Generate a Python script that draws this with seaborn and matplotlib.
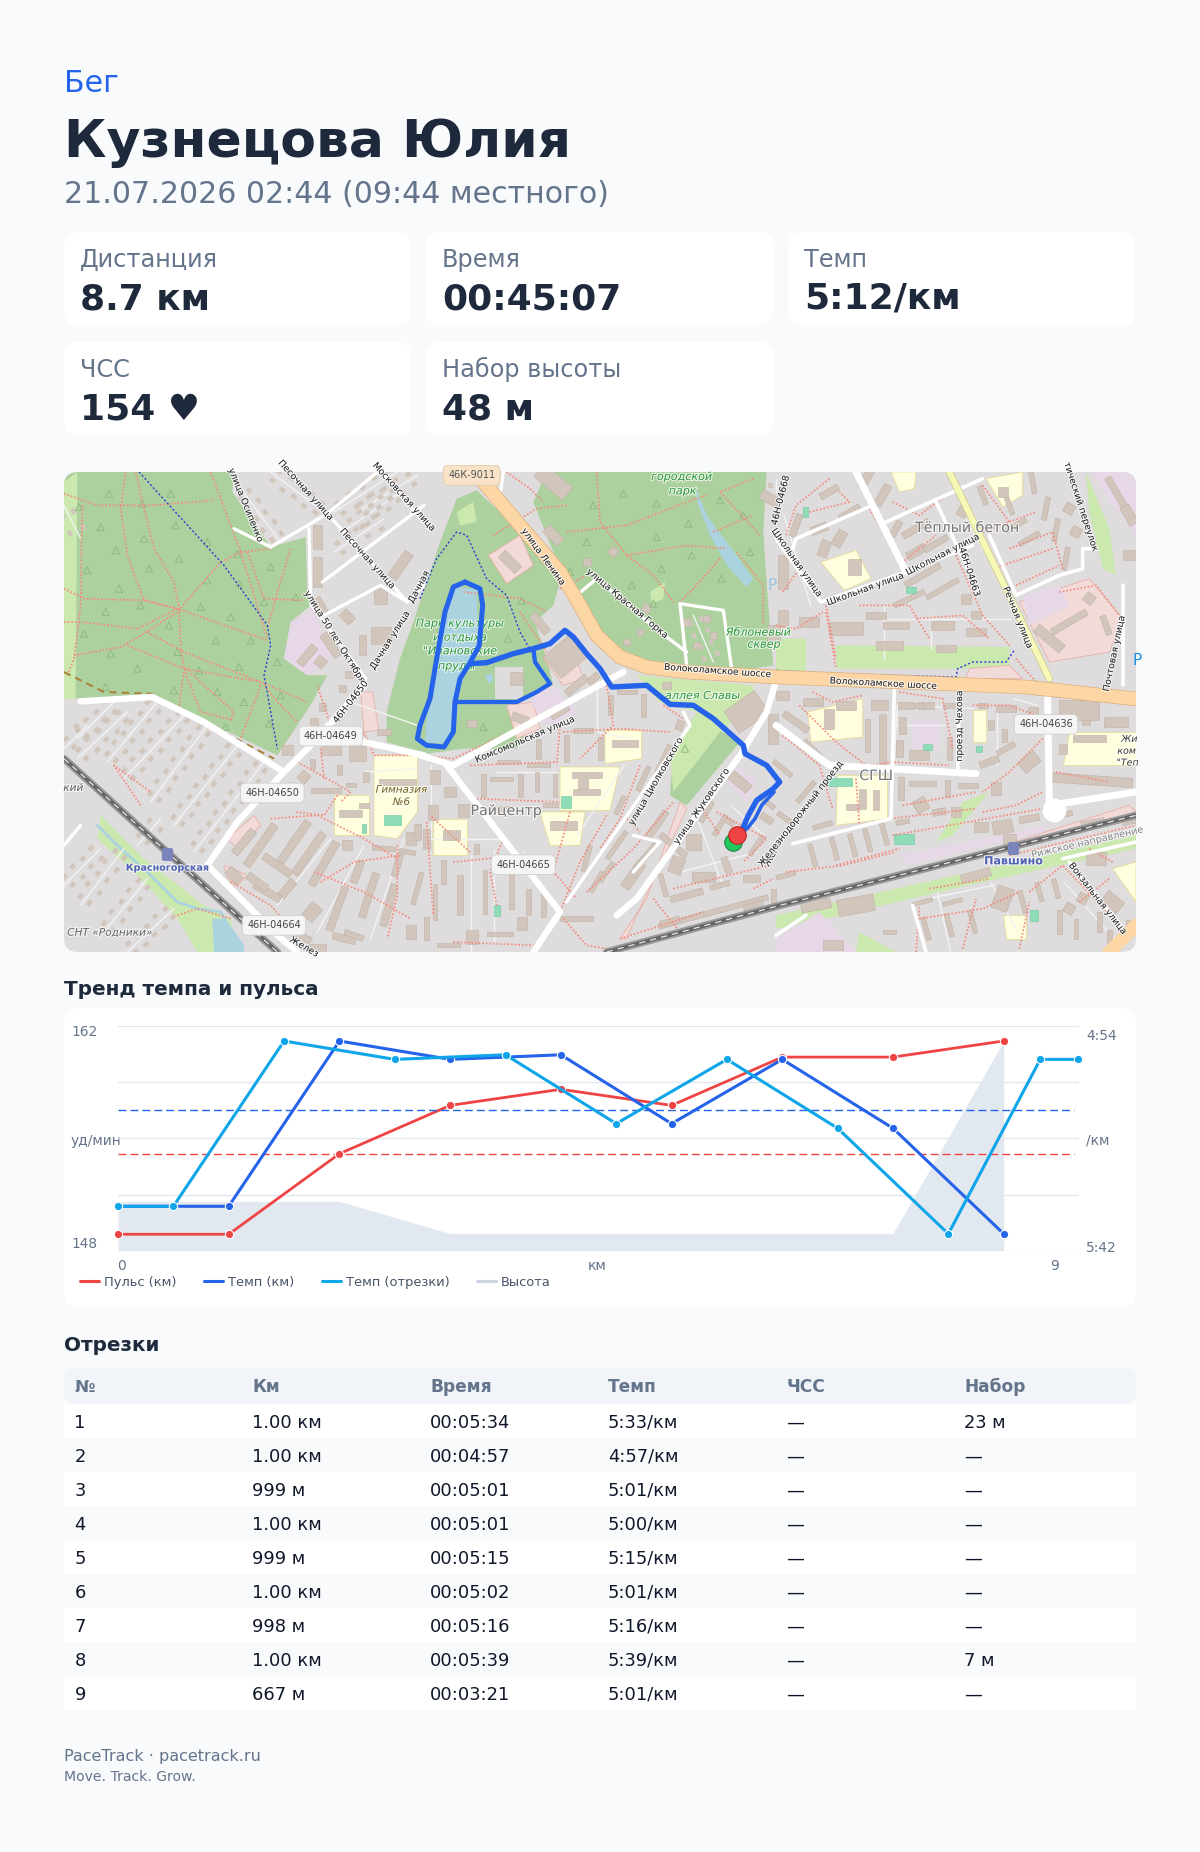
import numpy as np
import seaborn as sns
import matplotlib.pyplot as plt
import matplotlib.patheffects as pe
from matplotlib.lines import Line2D
from matplotlib.patches import FancyBboxPatch, Polygon, Rectangle

W, H = 1200, 1852
BG = '#f8fafc'
INK = '#1e293b'
MUTED = '#64748b'
BLUE = '#2563eb'
RED = '#ef4444'
CYAN = '#0ea5e9'

# ---- header / cards / table data
sport = 'Бег'
athlete = 'Кузнецова Юлия'
started = '21.07.2026 02:44 (09:44 местного)'
card_titles = ['Дистанция', 'Время', 'Темп', 'ЧСС', 'Набор высоты']
card_values = ['8.7 км', '00:45:07', '5:12/км', '154 ♥', '48 м']

table_head = ['№', 'Км', 'Время', 'Темп', 'ЧСС', 'Набор']
seg_no = ['1', '2', '3', '4', '5', '6', '7', '8', '9']
seg_km = ['1.00 км', '1.00 км', '999 м', '1.00 км', '999 м', '1.00 км', '998 м', '1.00 км', '667 м']
seg_time = ['00:05:34', '00:04:57', '00:05:01', '00:05:01', '00:05:15', '00:05:02', '00:05:16', '00:05:39', '00:03:21']
seg_pace_txt = ['5:33/км', '4:57/км', '5:01/км', '5:00/км', '5:15/км', '5:01/км', '5:16/км', '5:39/км', '5:01/км']
seg_hr = ['—'] * 9
seg_gain = ['23 м', '—', '—', '—', '—', '—', '—', '7 м', '—']

# ---- chart data
km_x = [0, 1, 2, 3, 4, 5, 6, 7, 8]
pulse_km = [149, 149, 154, 157, 158, 157, 160, 160, 161]
pace_km = [333, 333, 297, 301, 300, 315, 301, 316, 339]
elev_km = [153, 153, 153, 150, 150, 150, 150, 150, 168]
seg_x = [0, 0.5, 1.5, 2.5, 3.5, 4.5, 5.5, 6.5, 7.5, 8.33, 8.67]
seg_pace = [333, 333, 297, 301, 300, 315, 301, 316, 339, 301, 301]
avg_pulse = 154
avg_pace = 312

# ---- map data, units are 1/3 px, one list per 356 px wide strip of the map
STRIP2, STRIP3 = 1068, 2136

FOREST = [
    [(40, 0), (510, 0), (505, 60), (620, 225), (725, 195), (730, 370), (745, 395), (680, 450), (660, 560),
     (730, 610), (790, 610), (745, 690), (700, 760), (640, 850), (265, 670), (0, 680), (0, 0)],
]
FOREST2 = [
    [(-100, 720), (-60, 560), (-20, 450), (60, 210), (110, 80), (170, 55), (250, 130), (340, 230), (420, 330),
     (400, 400), (345, 450), (380, 560), (400, 640), (260, 700), (345, 745), (290, 830), (130, 830), (20, 845), (-100, 810)],
    [(340, 90), (380, 0), (1040, 0), (1030, 180), (1040, 330), (1050, 470), (1060, 580), (940, 600), (800, 590),
     (650, 570), (540, 490), (480, 400), (420, 290)],
    [(760, 850), (870, 760), (960, 810), (800, 1000), (750, 970)],
]
PARK_LIGHT = [[(0, 30), (40, 0), (35, 680), (0, 680)], [(110, 1030), (240, 1160), (420, 1300), (500, 1340), (520, 1440), (400, 1440), (340, 1340), (220, 1210), (100, 1100)]]
PARK_LIGHT2 = [[(650, 610), (1000, 640), (1000, 700), (900, 780), (760, 960), (750, 850), (830, 720), (720, 690)],
               [(110, 120), (160, 90), (170, 150), (120, 160)], [(690, 360), (735, 330), (730, 380), (695, 395)]]
PARK_LIGHT3 = [[(0, 1330), (1080, 1090), (1080, 1130), (620, 1230), (150, 1340), (0, 1370)],
               [(180, 520), (700, 525), (700, 590), (180, 590)], [(0, 500), (90, 500), (90, 600), (0, 595)],
               [(930, 0), (1000, 170), (1020, 310), (980, 290), (940, 120)], [(560, 990), (640, 960), (530, 1090), (480, 1110)],
               [(250, 1380), (360, 1440), (240, 1440)]]
WATER2 = [[(100, 345), (170, 350), (175, 520), (140, 600), (105, 680), (100, 780), (70, 815), (15, 810), (20, 740), (45, 600), (70, 450)],
          [(825, 40), (860, 130), (920, 210), (1000, 320), (980, 345), (920, 280), (870, 190), (835, 100)],
          [(195, 610), (215, 605), (220, 625), (205, 635)]]
WATER1 = [[(445, 1340), (485, 1340), (540, 1420), (540, 1440), (450, 1440)]]
SCHOOL1 = [[(930, 850), (1060, 850), (1060, 1020), (1000, 1100), (930, 1090)], [(810, 970), (915, 970), (915, 1090), (810, 1090)]]
SCHOOL2 = [[(420, 885), (600, 885), (570, 1015), (420, 1015)], [(555, 775), (665, 775), (665, 860), (555, 875)],
           [(360, 1020), (495, 1020), (480, 1120), (390, 1120)], [(40, 1040), (140, 1040), (140, 1150), (40, 1150)]]
SCHOOL3 = [[(95, 720), (260, 680), (260, 795), (105, 810)], [(185, 910), (335, 910), (335, 1040), (180, 1060)],
           [(590, 715), (630, 715), (630, 810), (590, 810)], [(880, 780), (1080, 780), (1080, 880), (860, 880)],
           [(135, 270), (240, 235), (285, 320), (205, 355)], [(630, 20), (740, 0), (740, 70), (680, 105)],
           [(680, 1330), (750, 1330), (750, 1400), (690, 1400)], [(1010, 1190), (1080, 1170), (1080, 1290)], [(345, 0), (420, 0), (415, 50), (370, 60)]]
PINK1 = [[(890, 660), (925, 660), (945, 775), (900, 780)], [(480, 1180), (550, 1210), (520, 1240), (490, 1220)], [(490, 1100), (570, 1030), (590, 1060), (520, 1130)]]
PINK2 = [[(205, 250), (300, 190), (340, 280), (260, 335)], [(260, 700), (340, 690), (360, 770), (290, 800)],
         [(600, 1400), (680, 1280), (780, 990), (800, 1010), (650, 1330), (620, 1400)], [(370, 560), (450, 510), (490, 620), (430, 640)]]
PINK3 = [[(730, 390), (940, 320), (1040, 440), (1000, 540), (820, 570)], [(580, 590), (700, 580), (740, 620), (570, 620)], [(620, 1140), (1060, 1000), (1080, 1020), (650, 1150)]]
LILAC1 = [[(660, 560), (680, 450), (750, 410), (790, 520), (800, 570), (730, 610)]]
LILAC2 = [[(330, 680), (400, 640), (470, 720), (390, 760), (350, 720)], [(950, 880), (1010, 930), (980, 990), (920, 930)]]
LILAC3 = [[(410, 740), (490, 740), (490, 830), (410, 830)], [(740, 370), (850, 340), (880, 400), (760, 460)],
          [(950, 0), (1080, 0), (1080, 190), (980, 60)], [(370, 1150), (570, 1110), (810, 1060), (800, 1080), (400, 1180)],
          [(0, 1400), (130, 1320), (240, 1440), (0, 1440)]]
# mint sports grounds and small lawns
MINT = [(985, 1045, 50, 30), (900, 1070, 14, 26), (1300, 270, 1, 1), (1505, 990, 30, 34), (1300, 1315, 18, 34), (1380, 1180, 26, 26), (2325, 930, 80, 26),
        (2590, 825, 26, 16), (2745, 830, 20, 18), (2520, 1100, 60, 30), (2910, 1330, 22, 34), (2900, 400, 1, 1), (2540, 355, 30, 18), (2225, 120, 16, 30)]

# small houses sit along these lanes
LANES1 = [[(40, 800), (150, 690)], [(130, 870), (280, 690)], [(180, 920), (370, 720)], [(260, 990), (430, 760)], [(330, 1060), (520, 820)],
          [(390, 1140), (600, 870)], [(0, 830), (70, 760)], [(40, 860), (190, 720)], [(50, 1300), (180, 1130)], [(120, 1380), (250, 1220)],
          [(190, 1440), (330, 1310)], [(0, 1240), (110, 1130)], [(530, 50), (650, 210)], [(620, 0), (780, 120)], [(810, 120), (1000, 0)],
          [(880, 120), (1060, 10)], [(850, 170), (1010, 60)], [(810, 240), (960, 140)], [(0, 100), (50, 200)], [(220, 1120), (290, 1040)]]
LANES2 = [[(820, 430), (880, 570)], [(1068, 20), (1068, 60)]]

BLD1 = [(590, 1120, 150, 24, -55), (690, 1110, 150, 24, -55), (735, 1145, 150, 24, -55), (780, 1175, 150, 24, -60), (880, 1200, 70, 22, -70),
        (820, 1310, 140, 22, -70), (915, 1270, 140, 22, -72), (975, 1300, 130, 22, -75), (745, 1320, 50, 40, -50), (670, 1250, 60, 25, -50),
        (610, 1260, 90, 22, 30), (510, 1210, 50, 30, 45), (540, 1110, 90, 24, -50), (785, 955, 90, 14, 0), (860, 940, 30, 12, 0), (1000, 930, 110, 18, 0),
        (860, 1025, 70, 22, 0), (880, 845, 50, 45, 0), (800, 835, 60, 30, 0), (750, 750, 22, 22, 0), (835, 650, 22, 22, 0), (855, 607, 22, 22, 0),
        (775, 705, 22, 22, 0), (670, 835, 35, 30, 0), (745, 875, 15, 30, 0), (825, 895, 15, 30, 0), (905, 915, 18, 30, 0), (720, 915, 30, 30, -50),
        (760, 195, 28, 70, 0), (760, 300, 28, 90, 0), (770, 400, 22, 50, -30), (850, 435, 40, 30, 45), (895, 520, 20, 60, 0), (950, 370, 40, 50, 0),
        (950, 490, 60, 50, 0), (800, 520, 25, 80, -35), (730, 550, 25, 70, 40), (770, 570, 30, 30, 40), (1010, 280, 30, 90, 35), (1040, 1100, 30, 40, 0),
        (960, 1130, 70, 14, 5), (1000, 1180, 20, 70, 15), (850, 1120, 30, 30, 0), (840, 1400, 70, 20, 15), (760, 1430, 50, 30, 0), (1060, 1080, 20, 50, 0),
        (640, 1180, 100, 22, 35), (580, 1230, 70, 22, 35), (710, 1390, 70, 20, 30), (1060, 1250, 14, 100, 15), (870, 1390, 16, 60, -70), (1040, 1380, 30, 40, 0),
        (660, 960, 70, 14, -45), (1030, 1140, 50, 14, 10), (840, 780, 30, 16, 0), (960, 780, 40, 20, 0), (900, 1000, 30, 14, 0)]
BLD2 = [(400, 30, 110, 50, 40), (400, 190, 60, 30, 45), (270, 270, 70, 30, 45), (360, 455, 70, 25, 50), (435, 555, 100, 85, -40), (470, 640, 80, 22, -40),
        (520, 620, 40, 20, -40), (420, 720, 60, 20, -30), (300, 740, 50, 25, 20), (155, 755, 30, 22, 0), (290, 620, 40, 40, 0), (620, 660, 60, 14, 0),
        (670, 700, 15, 70, 0), (570, 700, 15, 60, 0), (490, 775, 60, 14, 0), (540, 830, 15, 70, 0), (440, 830, 15, 80, 0), (355, 830, 15, 60, 0),
        (265, 870, 70, 12, 0), (355, 880, 70, 12, 0), (615, 815, 80, 22, 0), (500, 910, 90, 18, 0), (490, 940, 30, 40, 0), (500, 960, 80, 20, 0),
        (190, 940, 15, 70, 0), (245, 920, 70, 12, 0), (300, 940, 15, 70, 0), (350, 930, 12, 60, 0), (405, 940, 12, 70, 0), (45, 915, 30, 40, 0),
        (90, 960, 35, 30, 0), (130, 1015, 35, 40, 0), (40, 1020, 30, 45, 0), (390, 1000, 45, 12, 0), (95, 1090, 50, 30, 0), (430, 1060, 80, 25, 0),
        (70, 1200, 16, 70, 0), (120, 1270, 16, 120, 0), (45, 1290, 14, 110, 0), (195, 1260, 14, 130, 0), (275, 1260, 14, 100, 0), (325, 1290, 14, 80, 0),
        (370, 1300, 14, 70, 0), (305, 1355, 30, 40, 0), (155, 1395, 35, 40, 0), (240, 1385, 80, 12, 0), (85, 1420, 70, 12, 0), (500, 1160, 14, 80, 15),
        (600, 1000, 14, 60, 25), (670, 920, 14, 80, 25), (730, 860, 14, 90, 25), (780, 760, 22, 30, 20), (590, 1120, 14, 100, 35), (710, 1060, 20, 100, 35),
        (680, 1150, 18, 100, 40), (640, 1210, 30, 90, 35), (860, 1020, 14, 70, 30), (900, 1060, 14, 70, 30), (820, 1110, 45, 50, 0), (770, 1180, 40, 50, 20),
        (850, 1215, 70, 30, 0), (1010, 1120, 14, 70, 35), (920, 1180, 20, 50, -20), (995, 1220, 50, 20, 0), (960, 930, 70, 30, 40), (1040, 990, 60, 14, 40),
        (800, 1270, 100, 20, -15), (900, 1240, 60, 15, -15), (880, 1320, 340, 16, -15), (750, 1350, 60, 20, -15), (580, 240, 25, 25, 45), (500, 270, 25, 25, 0),
        (680, 410, 25, 25, 30), (620, 510, 20, 20, 0), (660, 480, 20, 20, 0), (740, 640, 26, 20, 0), (800, 450, 22, 22, 0), (860, 440, 22, 22, 0), (830, 520, 22, 22, 0),
        (880, 490, 22, 22, 0), (1050, 80, 30, 60, -60), (1060, 490, 40, 60, 0), (980, 720, 110, 80, -35), (1060, 770, 30, 90, 0),
        (470, 1340, 100, 16, 0), (530, 1230, 14, 70, 30), (760, 1120, 100, 18, 40), (560, 1200, 14, 70, 35), (730, 1240, 14, 70, -15), (1040, 1040, 40, 20, 35),
        (930, 1050, 30, 16, 35), (1060, 1280, 14, 60, 0), (1000, 1300, 60, 14, -15), (20, 1100, 20, 60, 0), (20, 1370, 14, 70, 0), (240, 1010, 70, 14, 0), (170, 1130, 16, 30, 0)]
BLD3 = [(20, 300, 30, 100, 0), (20, 440, 30, 50, 0), (60, 160, 20, 70, 20), (130, 170, 50, 25, -20), (145, 230, 30, 50, 20), (190, 200, 30, 50, 30), (235, 285, 40, 50, 0),
        (100, 450, 60, 30, 0), (210, 470, 100, 40, 0), (340, 520, 80, 25, 0), (360, 460, 80, 20, 0), (500, 460, 70, 25, 0), (510, 530, 60, 20, 0), (600, 480, 60, 25, 0),
        (420, 240, 60, 25, -30), (440, 310, 120, 18, -30), (400, 380, 100, 15, -25), (500, 350, 110, 15, -30), (320, 70, 25, 70, 30), (270, 20, 25, 60, 30), (160, 60, 60, 20, -30),
        (420, 170, 90, 20, -30), (480, 215, 80, 18, -30), (360, 170, 20, 50, 30), (620, 70, 15, 60, -20), (770, 30, 15, 70, -10), (720, 160, 70, 15, -30), (760, 200, 70, 15, -30),
        (810, 110, 15, 70, 10), (840, 175, 15, 70, 10), (870, 260, 15, 70, 10), (880, 110, 30, 30, 30), (900, 180, 30, 30, 30), (880, 450, 120, 20, -30), (940, 380, 30, 30, 40),
        (820, 500, 100, 30, 40), (990, 460, 18, 60, -20), (1020, 60, 100, 20, 60), (1060, 130, 60, 30, 60), (1060, 250, 40, 30, 0), (20, 670, 40, 25, 0), (110, 690, 60, 25, 0),
        (210, 700, 60, 25, 0), (310, 700, 50, 30, 0), (390, 700, 50, 20, 0), (450, 700, 50, 20, 0), (520, 700, 40, 15, 0), (690, 710, 60, 20, 0), (770, 720, 30, 30, 0), (620, 700, 30, 15, 0),
        (320, 800, 22, 150, 0), (275, 790, 15, 100, 0), (370, 830, 20, 50, 0), (430, 850, 60, 30, 0), (380, 760, 20, 50, 0), (520, 830, 14, 70, 0), (685, 790, 16, 40, 0), (645, 760, 18, 30, 0),
        (640, 870, 60, 20, -20), (690, 830, 60, 16, -30), (760, 870, 60, 40, -40), (60, 750, 90, 20, 35), (375, 950, 16, 70, 0), (440, 935, 80, 14, 0), (515, 950, 16, 50, 0), (575, 940, 60, 14, 0),
        (380, 1050, 40, 14, -10), (435, 1000, 40, 40, -30), (490, 1020, 40, 20, -10), (540, 1020, 30, 30, 0), (110, 1150, 14, 70, -15), (175, 1130, 14, 70, -15), (230, 1120, 14, 70, -15),
        (275, 1105, 14, 70, -15), (325, 1085, 14, 70, -15), (30, 1040, 60, 14, 35), (90, 960, 80, 14, -50), (260, 980, 20, 60, 0), (300, 985, 20, 60, 0), (230, 1005, 40, 20, 0),
        (930, 740, 25, 35, 0), (860, 830, 25, 30, 0), (940, 800, 100, 20, 0), (1020, 750, 70, 30, 0), (910, 715, 120, 60, 0), (950, 925, 240, 28, 4), (680, 1065, 60, 40, -10), (615, 1065, 40, 30, 0),
        (760, 1040, 60, 20, -10), (850, 1030, 80, 15, -10), (680, 1280, 50, 70, 20), (740, 1290, 14, 70, -15), (790, 1260, 14, 60, -15), (840, 1250, 14, 60, -15), (600, 1210, 90, 25, -15),
        (520, 1360, 14, 70, -15), (590, 1350, 14, 70, -15), (450, 1370, 14, 70, -15), (440, 1290, 60, 12, -15), (530, 1290, 60, 12, -15), (880, 1310, 30, 30, 30), (920, 1280, 30, 30, 30),
        (1010, 1290, 60, 40, 40), (960, 1160, 60, 40, 0), (900, 1370, 14, 60, 0), (850, 1350, 14, 70, 0), (1000, 1400, 14, 50, 0), (240, 1300, 110, 50, -10), (170, 1420, 60, 30, 0),
        (300, 430, 60, 20, 0), (570, 380, 30, 30, 0), (600, 430, 30, 24, 0), (700, 100, 14, 60, -20), (220, 120, 70, 16, -30), (680, 60, 30, 30, 0), (560, 120, 30, 30, 30),
        (430, 700, 30, 14, 0), (160, 740, 30, 60, 0), (110, 830, 14, 70, -45), (20, 890, 70, 14, 40), (140, 1060, 60, 14, -15), (660, 950, 30, 40, 0), (700, 1100, 40, 30, 0),
        (30, 1210, 60, 14, -15), (120, 1300, 90, 30, -10), (340, 1380, 40, 14, 0), (950, 1050, 70, 14, -10), (1060, 1050, 40, 14, -10), (970, 1350, 14, 60, 0), (1060, 1360, 20, 30, 0)]

TRAILS1 = [[(0, 65), (100, 100), (260, 100), (450, 85)], [(185, 0), (170, 110), (190, 250), (240, 385), (340, 410)],
           [(215, 0), (240, 110), (270, 230), (330, 330), (345, 410), (350, 520), (360, 590), (410, 720), (510, 745)],
           [(0, 350), (60, 380), (240, 385), (340, 410), (610, 505)], [(0, 450), (50, 450), (220, 470), (340, 410)],
           [(30, 550), (170, 525), (230, 490), (340, 420), (470, 270), (530, 240), (620, 230)],
           [(190, 520), (360, 590), (590, 630), (730, 690)], [(250, 480), (360, 540), (590, 630)], [(365, 590), (510, 720), (500, 745)],
           [(550, 240), (600, 380), (720, 385)], [(680, 230), (640, 360), (610, 470)], [(590, 640), (530, 800)], [(10, 610), (30, 560), (50, 400), (55, 100)],
           [(360, 600), (345, 700)], [(600, 640), (640, 690), (700, 750)], [(440, 0), (530, 240), (610, 500)],
           [(900, 780), (930, 850), (1060, 850)], [(760, 640), (800, 760), (900, 790)], [(820, 970), (780, 1030), (690, 1020)],
           [(620, 1040), (760, 1030), (900, 1100), (1000, 1160)], [(770, 1230), (870, 1170), (1010, 1150)], [(500, 1230), (620, 1300), (680, 1370)],
           [(340, 1330), (400, 1310), (500, 1340)], [(750, 1200), (900, 1260), (1040, 1340)], [(1000, 1120), (1000, 1270), (970, 1400)],
           [(230, 1000), (150, 880), (260, 960)], [(700, 870), (860, 960), (830, 990)], [(770, 830), (780, 920)]]
TRAILS2 = [[(530, 0), (540, 150), (620, 250), (700, 310)], [(440, 180), (620, 160), (800, 90), (860, 70)], [(620, 250), (800, 220), (920, 230)],
           [(700, 310), (760, 390)], [(880, 180), (1000, 130)], [(900, 260), (820, 350), (780, 390)], [(1000, 20), (900, 60), (1020, 190)],
           [(220, 190), (350, 110), (440, 100)], [(260, 0), (330, 50), (370, 90)], [(950, 240), (1030, 340), (1030, 460)], [(420, 350), (520, 300)],
           [(130, 360), (300, 380), (380, 420)], [(300, 420), (380, 540)], [(0, 850), (100, 860), (270, 780)], [(430, 780), (600, 770), (750, 780)],
           [(250, 1100), (210, 1200), (230, 1300)], [(450, 1020), (400, 1200), (470, 1280)], [(100, 1170), (300, 1150), (400, 1170)], [(20, 1050), (40, 1330)],
           [(660, 880), (600, 1040), (540, 1130)], [(500, 1260), (640, 1130), (760, 990)], [(890, 1020), (1040, 1100), (970, 1170)], [(760, 1250), (1050, 1180)],
           [(600, 1400), (850, 1320)], [(840, 1000), (900, 1090)], [(620, 1040), (660, 1080)], [(430, 1340), (500, 1420), (560, 1430)], [(1000, 1250), (1060, 1220)],
           [(560, 640), (580, 760), (480, 860)], [(420, 760), (410, 880)], [(150, 880), (410, 870)], [(170, 980), (420, 990)], [(150, 1140), (30, 1030)], [(730, 700), (790, 740)],
           [(560, 1030), (480, 1170), (420, 1320)], [(100, 1410), (340, 1420)], [(700, 1280), (780, 1380)]]
TRAILS3 = [[(0, 460), (60, 470), (140, 420)], [(150, 420), (180, 590)], [(100, 120), (220, 90), (190, 60)], [(280, 110), (380, 270), (480, 190)],
           [(20, 360), (70, 290)], [(420, 440), (560, 430), (640, 500)], [(250, 400), (400, 400), (460, 500)], [(540, 250), (620, 430), (700, 520)], [(620, 40), (700, 150)],
           [(700, 230), (830, 180), (860, 290)], [(110, 660), (170, 690), (260, 670)], [(70, 700), (180, 810), (270, 880)], [(370, 660), (500, 680), (530, 830)],
           [(590, 700), (700, 700), (780, 730)], [(280, 880), (350, 870), (520, 880)], [(20, 790), (130, 880), (170, 1010)], [(60, 1110), (340, 1040), (600, 1010)],
           [(350, 1090), (520, 1060), (800, 1010)], [(620, 1020), (720, 1000), (800, 960)], [(380, 1000), (600, 960)], [(840, 900), (1000, 930)], [(30, 1200), (200, 1180), (360, 1140)],
           [(460, 1250), (640, 1220)], [(430, 1340), (620, 1310), (730, 1260)], [(760, 1260), (860, 1180), (1050, 1380)], [(910, 1290), (1000, 1220)], [(850, 360), (960, 340), (1030, 430)],
           [(720, 560), (780, 630)], [(800, 800), (700, 900), (620, 960)], [(620, 180), (780, 120)], [(160, 20), (60, 100), (30, 190)], [(350, 90), (430, 130), (510, 70)],
           [(650, 290), (830, 230)], [(720, 340), (850, 280)], [(240, 920), (250, 1060)], [(180, 1180), (370, 1130)], [(700, 1150), (1080, 1060)], [(420, 1440), (430, 1300)],
           [(560, 1430), (600, 1280)], [(730, 1430), (760, 1290)], [(1010, 1170), (940, 1130)], [(150, 400), (180, 560)]]
SERVICE = [[(1100, 880), (1100, 1100), (1330, 1100)], [(1290, 1130), (1290, 1420)], [(1220, 1150), (1220, 1440)], [(1380, 1140), (1440, 1260)], [(1600, 650), (1600, 780), (1700, 800)],
           [(1300, 900), (1480, 900)], [(1680, 880), (1540, 1090)], [(1900, 1040), (1980, 1250)], [(1850, 1200), (2080, 1140)], [(2000, 1000), (2100, 1090)],
           [(2160, 130), (2240, 400)], [(2450, 440), (2840, 440)], [(2460, 400), (2460, 560)], [(2600, 430), (2600, 530)], [(2700, 130), (2850, 400)],
           [(2500, 700), (2730, 710)], [(2500, 760), (2640, 760)], [(2500, 700), (2490, 870)], [(2800, 700), (2800, 880)], [(2850, 680), (2920, 700)],
           [(2590, 1280), (2790, 1240)], [(2620, 1260), (2660, 1440)], [(2780, 1230), (2860, 1380)], [(3000, 1230), (3150, 1400)], [(900, 900), (1060, 890)],
           [(800, 1100), (640, 1300)], [(900, 1120), (760, 1380)], [(1020, 1100), (920, 1400)], [(860, 690), (1060, 760)]]

ROAD_WIDE1 = [[(50, 688), (265, 675), (420, 750), (660, 900)], [(430, 1180), (520, 1050), (660, 900), (750, 810), (900, 640)], [(430, 1180), (640, 1390), (700, 1440)], [(900, 810), (1080, 850)]]
ROAD_THIN1 = [[(900, 640), (905, 620), (740, 395), (735, 170)], [(620, 225), (790, 125), (940, 0)], [(790, 125), (1030, 390)], [(775, 330), (1080, 100)], [(780, 430), (950, 340), (1030, 390)],
              [(950, 0), (1080, 150)], [(510, 170), (620, 225)], [(0, 1120), (50, 1060)], [(1030, 390), (1080, 340)]]
ROAD_WIDE2 = [[(0, 850), (100, 880), (610, 600)], [(80, 880), (420, 1320), (340, 1440)], [(1070, 620), (1040, 720), (960, 850), (650, 1280), (590, 1330)]]
ROAD_THIN2 = [[(250, 0), (240, 70)], [(530, 320), (470, 370)], [(780, 395), (910, 415), (935, 590)], [(780, 395), (800, 580)], [(530, 320), (720, 480), (800, 540)],
              [(440, 1290), (810, 760), (790, 720)], [(640, 1090), (720, 1110), (640, 1200)]]
ROAD_WIDE3 = [[(240, 0), (390, 300)], [(0, 760), (160, 880), (600, 905)], [(815, 680), (820, 1000)], [(820, 1000), (1080, 960)]]
ROAD_THIN3 = [[(50, 230), (60, 200), (290, 100)], [(330, 150), (620, 20)], [(0, 200), (135, 390), (390, 300), (590, 220)], [(355, 650), (345, 1040), (50, 1115)], [(550, 655), (545, 900)],
              [(720, 370), (850, 310), (920, 290), (920, 230), (960, 230)], [(860, 1160), (1080, 1110)], [(880, 1170), (1050, 1380)], [(0, 1390), (90, 1330)], [(410, 1300), (450, 1440)],
              [(640, 190), (720, 370)], [(480, 90), (590, 320)], [(1040, 340), (1040, 640)]]
# main road, middle strip coordinates
ORANGE = [(190, 30), (300, 160), (420, 300), (480, 400), (530, 490), (600, 555), (680, 585), (800, 600), (1068, 615), (1068 + 750, 645), (1068 + 1090, 682)]
RECHNAYA3 = [(520, 0), (820, 620)]
RAIL = [[(0, 860), (640, 1440)], [(1068 + 560, 1440), (1068 + 1080, 1300), (2136 + 1080, 1030)]]
BLUE_DOTS = [[(225, 0), (480, 280), (610, 460), (620, 520), (600, 610), (640, 830)],
             [(1068, 380), (1118, 260), (1178, 180), (1208, 190), (1268, 320), (1328, 370), (1368, 480), (1408, 550)],
             [(2136, 595), (2316, 605), (2676, 615), (2681, 590), (2726, 570), (2826, 570), (2851, 535)]]
BROWN_DASH = [(0, 600), (120, 660), (260, 665), (630, 860)]

# jogging track, middle strip
ROUTE_OUT = [(135, 330), (180, 350), (188, 400), (178, 520), (150, 572), (120, 620), (105, 690), (100, 780), (72, 825), (20, 820), (-8, 800), (0, 760), (30, 680), (50, 560),
             (75, 420), (100, 345), (135, 330)]
ROUTE_LEG = [(150, 575), (200, 572), (280, 545), (340, 530), (390, 515), (435, 475), (460, 495), (500, 545), (540, 590), (575, 645), (680, 640), (750, 697), (820, 700), (880, 740),
             (970, 820), (975, 845), (1040, 880), (1079, 930), (1060, 950), (1010, 985), (985, 1030), (970, 1065), (955, 1090)]
ROUTE_BACK = [(340, 530), (345, 570), (390, 635), (350, 660), (290, 690), (180, 690), (110, 690)]
ROUTE_TWIN = [(960, 1090), (985, 1065), (1005, 1040), (1025, 1000), (1062, 960)]
START_PT = (938, 1110)
FINISH_PT = (950, 1090)

ROAD_SIGNS = [(0, '46Н-04649', 800, 792), (0, '46Н-04650', 625, 963), (0, '46Н-04664', 630, 1360), (STRIP2, '46Н-04665', 310, 1178), (STRIP3, '46Н-04636', 810, 757)]
MAP_TEXT = [
    (0, 'улица Осипенко', 545, 100, -68, 'street'), (0, 'Песочная улица', 725, 55, -48, 'street'), (0, 'Песочная улица', 910, 260, -48, 'street'),
    (0, 'Московская улица', 1020, 75, -48, 'street'), (0, 'улица 50 лет Октября', 812, 495, -58, 'street'), (0, 'Дачная улица', 978, 505, 58, 'street'),
    (0, '46Н-04650', 860, 690, 52, 'street'), (0, 'Дачная', 1065, 345, 62, 'street'), (0, 'Желез', 720, 1425, -30, 'street'),
    (0, 'кий', 28, 948, 0, 'place_i'), (0, 'СНТ «Родники»', 137, 1382, 0, 'place_i'), (0, 'Гимназия', 1012, 953, 0, 'brown_i'), (0, '№6', 1012, 990, 0, 'brown_i'),
    (STRIP2, 'улица Ленина', 370, 255, -54, 'street'), (STRIP2, 'улица Красная Горка', 622, 395, -40, 'street'), (STRIP2, 'Волоколамское шоссе', 893, 597, -4, 'street'),
    (STRIP3, 'Волоколамское шоссе', 322, 635, -3, 'street'), (STRIP2, 'Комсомольская улица', 315, 803, 23, 'street'), (STRIP2, 'улица Циолковского', 708, 928, 60, 'street'),
    (STRIP2, 'улица Жуковского', 845, 1003, 55, 'street'), (STRIP2, 'аллея Славы', 848, 672, 0, 'green'), (STRIP2, 'Парк культуры', 120, 455, 0, 'green'),
    (STRIP2, 'и отдыха', 120, 497, 0, 'green'), (STRIP2, '"Ивановские', 120, 538, 0, 'green'), (STRIP2, 'пруды', 110, 583, 0, 'green'), (STRIP2, 'городской', 785, 15, 0, 'green'),
    (STRIP2, 'парк', 788, 58, 0, 'green'), (STRIP2, 'Яблоневый', 1015, 482, 0, 'green'), (STRIP2, 'сквер', 1032, 518, 0, 'green'), (STRIP2, 'Райцентр', 258, 1017, 0, 'place'),
    (STRIP2, 'Желез', 1062, 1140, 62, 'street'), (STRIP3, 'Тёплый бетон', 573, 168, 0, 'place'), (STRIP3, 'СГШ', 300, 912, 0, 'place'), (STRIP3, '46Н-04668', 14, 85, 76, 'street'),
    (STRIP3, 'Школьная улица', 62, 272, -55, 'street'), (STRIP3, 'Школьная улица', 268, 352, 20, 'street'), (STRIP3, 'Школьная улица', 500, 248, 27, 'street'),
    (STRIP3, '46Н-04663', 580, 300, -72, 'street'), (STRIP3, 'Речная улица', 725, 437, -68, 'street'), (STRIP3, 'Почтовая улица', 1015, 545, 78, 'street'),
    (STRIP3, 'тический переулок', 915, 105, -72, 'street'), (STRIP3, 'проезд Чехова', 551, 762, 90, 'street'), (STRIP3, 'Железнодорожный проезд', 75, 1025, 52, 'street'),
    (STRIP3, 'Рижское направление', 935, 1110, 13, 'rail'), (STRIP3, 'Вокзальная улица', 965, 1280, -52, 'street'), (STRIP3, 'Жи', 1060, 802, 0, 'dark_i'), (STRIP3, 'ком', 1052, 838, 0, 'dark_i'),
    (STRIP3, '"Теп', 1055, 873, 0, 'dark_i'),
]
STATIONS = [(0, 'Красногорская', 310, 1187), (STRIP3, 'Павшино', 712, 1168)]
TREES1 = [(135, 65), (320, 65), (45, 105), (110, 165), (235, 95), (335, 160), (240, 200), (155, 235), (345, 260), (70, 295), (255, 290), (620, 285), (520, 245), (430, 210), (165, 350),
          (430, 325), (525, 335), (600, 390), (695, 375), (230, 400), (410, 405), (125, 420), (500, 435), (315, 460), (60, 485), (455, 505), (560, 505), (640, 570), (140, 545), (340, 540),
          (220, 590), (525, 585), (405, 595), (330, 655), (460, 660), (125, 645), (540, 690), (650, 670), (615, 755), (485, 765)]
TREES2 = [(520, 100), (610, 65), (710, 95), (805, 155), (710, 195), (500, 210), (900, 85), (970, 130), (815, 250), (990, 240), (725, 290), (635, 340), (905, 320), (305, 385), (450, 300),
          (700, 395), (265, 500), (190, 765), (795, 830)]


def shifted(shapes, dx):
    return [[(x + dx, y) for x, y in s] for s in shapes]


def px(size):
    # css-like pixel size to points at dpi 100
    return size * 0.72


def box_corners(cx, cy, w, h, deg):
    a = np.radians(deg)
    ux, uy = np.cos(a), np.sin(a)
    vx, vy = -uy, ux
    return [(cx + s * w / 2 * ux + t * h / 2 * vx, cy + s * w / 2 * uy + t * h / 2 * vy) for s, t in ((-1, -1), (1, -1), (1, 1), (-1, 1))]


sns.set_theme(style='white')
plt.rcParams['font.family'] = ['DejaVu Sans']

fig = plt.figure(figsize=(W / 100, H / 100), dpi=100, facecolor=BG)
page = fig.add_axes([0, 0, 1, 1], facecolor=BG)
page.set_xlim(0, W)
page.set_ylim(H, 0)
page.axis('off')


def rounded(x0, y0, x1, y1, color, radius=14, ax=page, z=1):
    p = FancyBboxPatch((x0, y0), x1 - x0, y1 - y0, boxstyle=f'round,pad=0,rounding_size={radius}', fc=color, ec='none', zorder=z)
    ax.add_patch(p)
    return p


# ---- header
page.text(64, 91.5, sport, color=BLUE, fontsize=px(30))
page.text(64, 157, athlete, color=INK, fontsize=px(52), fontweight='bold')
page.text(64, 203, started, color=MUTED, fontsize=px(30))

card_x = [(64, 411), (426, 773), (788, 1135), (64, 411), (426, 773)]
card_y = [(232, 325), (232, 325), (232, 325), (342, 435), (342, 435)]
for (x0, x1), (y0, y1), name, val in zip(card_x, card_y, card_titles, card_values):
    rounded(x0, y0, x1, y1, 'white')
    page.text(x0 + 16, y0 + 35, name, color=MUTED, fontsize=px(24))
    page.text(x0 + 16, y0 + 77, val, color=INK, fontsize=px(36), fontweight='bold')

# ---- map
map_ax = fig.add_axes([64 / W, 1 - 952 / H, 1072 / W, 480 / H])
map_ax.set_xlim(0, 3216)
map_ax.set_ylim(1440, 0)
map_ax.axis('off')
map_ax.add_patch(Rectangle((0, 0), 3216, 1440, fc='#dedcdc', ec='none', zorder=0))


def fill_shapes(shapes, color, z=1, edge='none'):
    for s in shapes:
        map_ax.add_patch(Polygon(s, closed=True, fc=color, ec=edge, lw=0.5, zorder=z))


fill_shapes(FOREST + shifted(FOREST2, STRIP2), '#add19e')
fill_shapes(PARK_LIGHT + shifted(PARK_LIGHT2, STRIP2) + shifted(PARK_LIGHT3, STRIP3), '#cbe8ae', z=1.1)
fill_shapes(PINK1 + shifted(PINK2, STRIP2) + shifted(PINK3, STRIP3), '#f2dad9', z=1.2, edge='#e8a9a0')
fill_shapes(LILAC1 + shifted(LILAC2, STRIP2) + shifted(LILAC3, STRIP3), '#e6d8e6', z=1.2)
fill_shapes(SCHOOL1 + shifted(SCHOOL2, STRIP2) + shifted(SCHOOL3, STRIP3), '#ffffe0', z=1.3, edge='#e6d98c')
fill_shapes(WATER1 + shifted(WATER2, STRIP2), '#aad3df', z=1.4)
map_ax.add_patch(Rectangle((STRIP2 + 225, 585), 85, 95, fc='#dedcdc', ec='none', zorder=1.2))
map_ax.plot([100, 160, 260, 340, 400, 470, 485], [1060, 1120, 1210, 1290, 1310, 1320, 1345], color='#aad3df', lw=2, zorder=1.4)

for t in SERVICE:
    xs, ys = zip(*t)
    map_ax.plot(xs, ys, color='#f4f3f3', lw=1, zorder=1.5)

# little houses along the lanes
for lane in LANES1 + shifted(LANES2, STRIP2):
    (x0, y0), (x1, y1) = lane
    map_ax.plot([x0, x1], [y0, y1], color='#f4f3f3', lw=1, zorder=1.5)
    n = int(np.hypot(x1 - x0, y1 - y0) // 38)
    deg = np.degrees(np.arctan2(y1 - y0, x1 - x0))
    nx, ny = -(y1 - y0) / np.hypot(x1 - x0, y1 - y0), (x1 - x0) / np.hypot(x1 - x0, y1 - y0)
    for i in range(n):
        t = (i + 0.5) / max(n, 1)
        for side in (-1, 1):
            off = side * (22 if i % 2 else 17)
            map_ax.add_patch(Polygon(box_corners(x0 + (x1 - x0) * t + nx * off, y0 + (y1 - y0) * t + ny * off, 17, 13, deg), fc='#d2c6bc', ec='none', zorder=1.6))

for dx, blds in ((0, BLD1), (STRIP2, BLD2), (STRIP3, BLD3)):
    for cx, cy, w, h, deg in blds:
        map_ax.add_patch(Polygon(box_corners(cx + dx, cy, w, h, deg), fc='#d2c6bc', ec='#c0b2a6', lw=0.4, zorder=1.7))
for cx, cy, w, h in MINT:
    map_ax.add_patch(Polygon(box_corners(cx, cy, w, h, 0), fc='#8fdcb8', ec='#6fc7a0', lw=0.4, zorder=1.75))

for dx, trails in ((0, TRAILS1), (STRIP2, TRAILS2), (STRIP3, TRAILS3)):
    for t in trails:
        xs, ys = zip(*t)
        map_ax.plot(np.array(xs) + dx, ys, color='#f58b7e', lw=1.3, ls=(0, (0.9, 1.1)), zorder=2)

tx, ty = zip(*(TREES1 + [(x + STRIP2, y) for x, y in TREES2]))
map_ax.scatter(tx, ty, s=26, marker='^', fc='none', ec='#8fb983', lw=0.7, zorder=1.9)

for t in RAIL:
    xs, ys = zip(*t)
    map_ax.plot(xs, ys, color='#9a9a9a', lw=5.5, zorder=2.1)
    map_ax.plot(xs, ys, color='#666666', lw=2.8, zorder=2.2)
    map_ax.plot(xs, ys, color='#e8e8e8', lw=0.9, ls=(0, (5, 4)), zorder=2.3)

for t in BLUE_DOTS:
    xs, ys = zip(*t)
    map_ax.plot(xs, ys, color='#2a3fd0', lw=1, ls=(0, (1.5, 1.5)), zorder=2.4)
xs, ys = zip(*BROWN_DASH)
map_ax.plot(xs, ys, color='#a8843c', lw=1.5, ls=(0, (3.5, 2.5)), zorder=2.4)

for shapes, width in ((ROAD_THIN1, 2.4), (ROAD_WIDE1, 4.6), (shifted(ROAD_THIN2, STRIP2), 2.4), (shifted(ROAD_WIDE2, STRIP2), 4.6),
                      (shifted(ROAD_THIN3, STRIP3), 2.6), (shifted(ROAD_WIDE3, STRIP3), 5)):
    for t in shapes:
        xs, ys = zip(*t)
        map_ax.plot(xs, ys, color='white', lw=width, solid_capstyle='round', solid_joinstyle='round', zorder=2.5)
map_ax.scatter([STRIP3 + 835], [1015], s=260, c='white', zorder=2.5)

rx, ry = zip(*RECHNAYA3)
map_ax.plot(np.array(rx) + STRIP3, ry, color='#cdc98a', lw=5.2, zorder=2.6)
map_ax.plot(np.array(rx) + STRIP3, ry, color='#f6f9b6', lw=4.2, zorder=2.7)
xs, ys = zip(*ORANGE)
xs = np.array(xs) + STRIP2
map_ax.plot(xs, ys, color='#dcae7c', lw=10.4, solid_joinstyle='round', zorder=2.8)
map_ax.plot(xs, ys, color='#fcd6a4', lw=9.4, solid_joinstyle='round', zorder=2.9)
map_ax.plot([STRIP3 + 1000, STRIP3 + 1080], [1440, 1360], color='#fcd6a4', lw=9.4, zorder=2.9)

halo = [pe.withStroke(linewidth=1.6, foreground='white', alpha=0.75)]
text_styles = {
    'street': dict(color='#222222', fontsize=6.6),
    'green': dict(color='#2f9a3f', fontsize=8, style='italic'),
    'place': dict(color='#777777', fontsize=10.2),
    'place_i': dict(color='#666666', fontsize=7.6, style='italic'),
    'brown_i': dict(color='#7a6a2a', fontsize=7.4, style='italic'),
    'dark_i': dict(color='#444444', fontsize=6.8, style='italic'),
    'rail': dict(color='#8a8a8a', fontsize=7),
}
for dx, label, x, y, rot, kind in MAP_TEXT:
    map_ax.text(x + dx, y, label, rotation=rot, rotation_mode='anchor', ha='center', va='center', zorder=3, path_effects=halo, **text_styles[kind])
for dx, label, x, y in STATIONS:
    map_ax.text(x + dx, y, label, ha='center', va='center', color='#5162b5', fontsize=6.9 if dx == 0 else 8, fontweight='bold', zorder=3, path_effects=halo)
map_ax.scatter([310, STRIP3 + 712], [1146, 1127], marker='s', s=45, c='#7b84bb', zorder=3)
for dx, label, x, y in ROAD_SIGNS:
    map_ax.text(x + dx, y, label, ha='center', va='center', color='#444444', fontsize=7, zorder=3.2,
                bbox=dict(boxstyle='round,pad=0.5', fc='#f5f5f5', ec='#cfcfcf', lw=0.6))
map_ax.text(STRIP2 + 155, 10, '46К-9011', ha='center', va='center', color='#555555', fontsize=7, zorder=3.2,
            bbox=dict(boxstyle='round,pad=0.5', fc='#f8e3c8', ec='#e3cba8', lw=0.6))
map_ax.text(STRIP3 + 1082, 566, 'P', color='#1e8fe0', fontsize=11, ha='center', va='center', zorder=3)
map_ax.text(STRIP2 + 1055, 340, 'P', color='#9cc4e4', fontsize=11, ha='center', va='center', zorder=3)

for t, width in ((ROUTE_OUT, 3.6), (ROUTE_LEG, 3.9), (ROUTE_BACK, 3.1), (ROUTE_TWIN, 2.6)):
    xs, ys = zip(*t)
    map_ax.plot(np.array(xs) + STRIP2, ys, color=BLUE, lw=width, solid_joinstyle='round', solid_capstyle='round', zorder=4)
map_ax.scatter(START_PT[0] + STRIP2, START_PT[1], s=160, c='#22c55e', ec='#15803d', lw=0.7, zorder=5)
map_ax.scatter(FINISH_PT[0] + STRIP2, FINISH_PT[1], s=160, c=RED, ec='#b91c1c', lw=0.7, zorder=6)

clip = FancyBboxPatch((0, 0), 3216, 1440, boxstyle='round,pad=0,rounding_size=42', transform=map_ax.transData, fc='none', ec='none')
map_ax.add_patch(clip)
for art in map_ax.get_children():
    art.set_clip_path(clip)

# ---- trend chart
page.text(64, 995, 'Тренд темпа и пульса', color=INK, fontsize=px(20), fontweight='bold')
rounded(64, 1008, 1136, 1307, 'white')

rect = [118 / W, 1 - 1250.7 / H, (1079 - 118) / W, (1250.7 - 1026) / H]
ax_elev = fig.add_axes(rect, facecolor='none')
ax_pulse = fig.add_axes(rect, facecolor='none')
ax_pace = fig.add_axes(rect, facecolor='none')
xlim = (0, 8.68)
line_kw = dict(marker='o', markersize=6, markeredgewidth=0.8, markeredgecolor='white', legend=False, errorbar=None, clip_on=False)

ax_elev.set_ylim(148.39, 169.4)
ax_elev.set_yticks(np.linspace(148.39, 169.4, 5))
ax_elev.grid(axis='y', color='#e2e8f0', lw=1)
ax_elev.fill_between(km_x, elev_km, 148.39, color='#e2e8f0', lw=0, zorder=2)

ax_pulse.set_ylim(147.98, 161.93)
sns.lineplot(x=km_x, y=pulse_km, ax=ax_pulse, color=RED, lw=2, **line_kw)
ax_pulse.axhline(avg_pulse, xmax=0.995, color=RED, lw=1, ls=(0, (5.7, 2.9)), zorder=1)

ax_pace.set_ylim(342.67, 293.73)
ax_pace.axhline(avg_pace, xmax=0.995, color=BLUE, lw=1, ls=(0, (5.7, 2.9)), zorder=1)
sns.lineplot(x=km_x, y=pace_km, ax=ax_pace, color=BLUE, lw=2.2, **line_kw)
sns.lineplot(x=seg_x, y=seg_pace, ax=ax_pace, color=CYAN, lw=2.2, **line_kw)

for a in (ax_elev, ax_pulse, ax_pace):
    a.set_xlim(*xlim)
    sns.despine(ax=a, left=True, bottom=True)
    a.set_xlabel('')
    a.set_ylabel('')
    a.set_xticks([])
    a.tick_params(left=False, labelleft=False, right=False, labelright=False)
ax_pulse.set_yticks([])
ax_pace.set_yticks([])

axis_text = dict(color=MUTED, fontsize=px(13.7), va='center')
page.text(71, 1032, '162', **axis_text)
page.text(71, 1140.5, 'уд/мин', **axis_text)
page.text(71, 1244, '148', **axis_text)
page.text(1086, 1036, '4:54', **axis_text)
page.text(1086, 1141, '/км', **axis_text)
page.text(1086, 1248, '5:42', **axis_text)
page.text(121.5, 1266, '0', ha='center', **axis_text)
page.text(597, 1266, 'км', ha='center', **axis_text)
page.text(1054.5, 1266, '9', ha='center', **axis_text)

handles = [Line2D([], [], color=RED, lw=2.2), Line2D([], [], color=BLUE, lw=2.2), Line2D([], [], color=CYAN, lw=2.2), Line2D([], [], color='#cbd5e1', lw=2.2)]
fig.legend(handles, ['Пульс (км)', 'Темп (км)', 'Темп (отрезки)', 'Высота'], loc='upper left', bbox_to_anchor=(80 / W, 1 - 1276 / H), ncol=4, frameon=False,
           prop={'size': px(13)}, labelcolor='#475569', handlelength=1.46, handletextpad=0.4, columnspacing=2.1, borderpad=0, borderaxespad=0)

# ---- table
page.text(64, 1351, 'Отрезки', color=INK, fontsize=px(20), fontweight='bold')
col_x = [74.5, 252, 430, 608, 786.5, 964]
rounded(64, 1368, 1136, 1404, '#f1f5f9', radius=10)
for x, name in zip(col_x, table_head):
    page.text(x, 1387, name, color=MUTED, fontsize=px(17), fontweight='bold', va='center')
row_h = 34
rows = zip(seg_no, seg_km, seg_time, seg_pace_txt, seg_hr, seg_gain)
for i, row in enumerate(rows):
    top = 1404 + i * row_h
    page.add_patch(Rectangle((64, top), 1072, row_h, fc='white' if i % 2 == 0 else BG, ec='none', zorder=1))
    for x, cell in zip(col_x, row):
        page.text(x, top + row_h / 2 + 1.5, cell, color='#0f172a', fontsize=px(17.9), va='center')

# ---- footer
page.text(64, 1761, 'PaceTrack · pacetrack.ru', color=MUTED, fontsize=px(16))
page.text(64, 1781, 'Move. Track. Grow.', color=MUTED, fontsize=px(14))

fig.savefig('out.png', dpi=100, facecolor=BG)
